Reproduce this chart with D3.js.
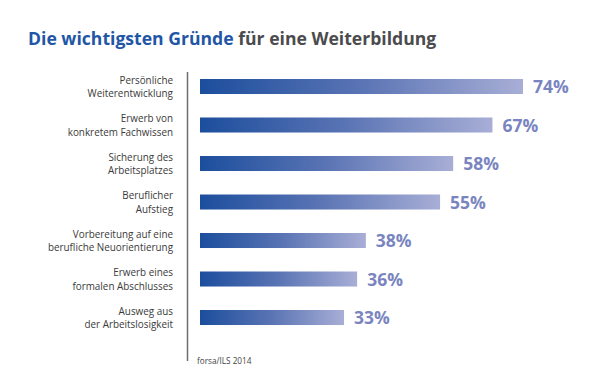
<!DOCTYPE html>
<html><head><meta charset="utf-8">
<script src="https://cdn.jsdelivr.net/npm/d3@7"></script>
<style>body{margin:0;background:#fff}svg{display:block}</style>
</head><body>
<svg id="c" width="600" height="390"></svg>
<script>
const categories = [
  ["Persönliche","Weiterentwicklung"],
  ["Erwerb von","konkretem Fachwissen"],
  ["Sicherung des","Arbeitsplatzes"],
  ["Beruflicher","Aufstieg"],
  ["Vorbereitung auf eine","berufliche Neuorientierung"],
  ["Erwerb eines","formalen Abschlusses"],
  ["Ausweg aus","der Arbeitslosigkeit"]
];
const values = [74, 67, 58, 55, 38, 36, 33];
const titleBlue = "Die wichtigsten Gründe";
const titleGray = " für eine Weiterbildung";
const source = "forsa/ILS 2014";

const svg = d3.select("#c");
const x = d3.scaleLinear().domain([0, 74]).range([200, 523]);
const y = d3.scaleBand().domain(d3.range(values.length)).range([59.75, 344.27]).paddingInner(0.61).paddingOuter(0.5);

const defs = svg.append("defs");
const g = defs.append("linearGradient").attr("id","grad").attr("x1","0").attr("x2","1").attr("y1","0").attr("y2","0");
g.append("stop").attr("offset","0").attr("stop-color","#1c4e9d");
g.append("stop").attr("offset","0.5").attr("stop-color","#5a74b4");
g.append("stop").attr("offset","1").attr("stop-color","#a8aed6");

const font = "'Open Sans', sans-serif";

const title = svg.append("text").attr("x", 28).attr("y", 45)
  .style("font-family", font).style("font-size","17.6px").style("font-weight","700");
title.append("tspan").attr("fill","#1f56a6").text(titleBlue);
title.append("tspan").attr("fill","#4b4b4d").text(titleGray);

svg.append("line").attr("x1",187.5).attr("x2",187.5).attr("y1",72).attr("y2",361)
  .attr("stroke","#6e6e6e").attr("stroke-width",1.5);

const rows = svg.selectAll("g.row").data(values).join("g").attr("class","row");
rows.append("rect")
  .attr("x", x(0)).attr("y", (d,i)=>y(i))
  .attr("width", d=>x(d)-x(0)).attr("height", y.bandwidth())
  .attr("fill","url(#grad)");
rows.append("text")
  .attr("x", d=>x(d)+10).attr("y",(d,i)=>y(i)+y.bandwidth()/2+6.5)
  .attr("fill","#7a85bf").style("font-family",font).style("font-size","17.5px").style("font-weight","700")
  .text(d=>d+"%");
rows.each(function(d,i){
  const t = d3.select(this).append("text").attr("text-anchor","end")
    .style("font-family",font).style("font-size","9.9px").attr("fill","#3a3a3a");
  categories[i].forEach((line,j)=>{
    t.append("tspan").attr("x",173).attr("y", y(i)+y.bandwidth()/2 - 3 + j*13.5).text(line);
  });
});

svg.append("text").attr("x",197).attr("y",363.5).style("font-family",font)
  .style("font-size","8.2px").attr("fill","#444").text(source);
</script>
</body></html>
